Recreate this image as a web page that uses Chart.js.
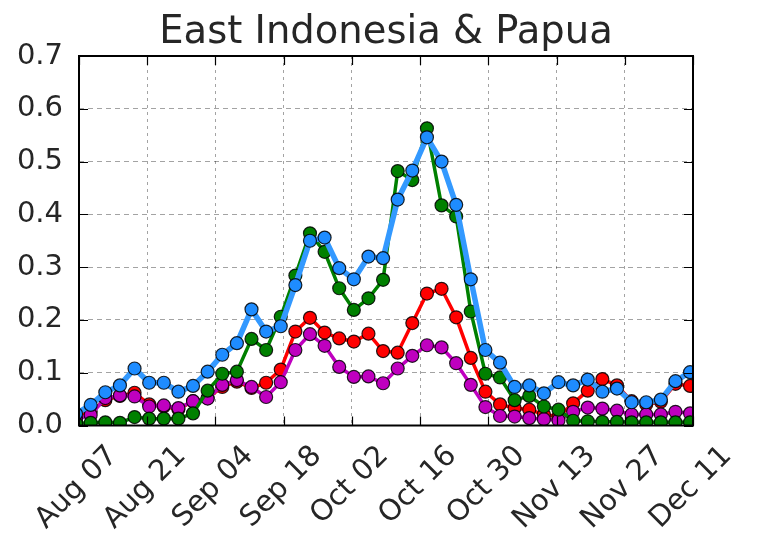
<!DOCTYPE html>
<html>
<head>
<meta charset="utf-8">
<script src="https://cdn.jsdelivr.net/npm/chart.js@4"></script>
<style>
  html, body { margin: 0; padding: 0; background: #ffffff; }
  canvas { display: block; }
</style>
</head>
<body>
<canvas id="chart" width="759" height="541"></canvas>
<script>
// Days after Aug 07 at which each sample was taken (one sample every 3 days)
const sampleDays = [-0.6, 2.4, 5.4, 8.4, 11.4, 14.4, 17.4, 20.4, 23.4, 26.4, 29.4,
  32.4, 35.4, 38.4, 41.4, 44.4, 47.4, 50.4, 53.4, 56.4, 59.4, 62.4, 65.4, 68.4,
  71.4, 74.4, 77.4, 80.4, 83.4, 86.4, 89.4, 92.4, 95.4, 98.4, 101.4, 104.4,
  107.4, 110.4, 113.4, 116.4, 119.4, 122.4, 125.4];

const blueSeries = [0.022, 0.039, 0.063, 0.076, 0.108, 0.081, 0.081, 0.064, 0.075, 0.102, 0.134,
  0.156, 0.220, 0.178, 0.188, 0.266, 0.350, 0.356, 0.298, 0.277, 0.320, 0.317, 0.428,
  0.483, 0.546, 0.500, 0.418, 0.277, 0.143, 0.119, 0.073, 0.076, 0.061, 0.082, 0.076,
  0.087, 0.064, 0.070, 0.044, 0.044, 0.049, 0.084, 0.101];

const greenSeries = [0.004, 0.005, 0.006, 0.005, 0.016, 0.013, 0.013, 0.013, 0.023, 0.066, 0.098,
  0.102, 0.164, 0.143, 0.206, 0.284, 0.364, 0.329, 0.260, 0.219, 0.241, 0.276, 0.482,
  0.465, 0.563, 0.417, 0.396, 0.216, 0.098, 0.091, 0.048, 0.056, 0.036, 0.030, 0.009,
  0.008, 0.007, 0.007, 0.006, 0.006, 0.006, 0.006, 0.006];

const redSeries = [0.018, 0.026, 0.048, 0.056, 0.062, 0.040, 0.036, 0.031, 0.046, 0.052, 0.073,
  0.083, 0.071, 0.081, 0.106, 0.178, 0.204, 0.176, 0.165, 0.159, 0.174, 0.141, 0.138,
  0.194, 0.250, 0.259, 0.205, 0.128, 0.064, 0.040, 0.033, 0.030, 0.021, 0.017, 0.042,
  0.066, 0.088, 0.076, 0.046, 0.040, 0.045, 0.079, 0.075];

const magentaSeries = [0.012, 0.020, 0.052, 0.057, 0.055, 0.036, 0.038, 0.033, 0.046, 0.051, 0.077,
  0.086, 0.073, 0.054, 0.082, 0.143, 0.173, 0.151, 0.111, 0.092, 0.093, 0.080, 0.108,
  0.132, 0.152, 0.148, 0.118, 0.077, 0.035, 0.018, 0.017, 0.014, 0.012, 0.010, 0.026,
  0.034, 0.032, 0.028, 0.021, 0.021, 0.021, 0.026, 0.023];

// Date ticks every two weeks, starting at Aug 07 (day 0)
const tickDays = [0, 14, 28, 42, 56, 70, 84, 98, 112, 126];
const tickLabels = ['Aug 07', 'Aug 21', 'Sep 04', 'Sep 18', 'Oct 02', 'Oct 16',
  'Oct 30', 'Nov 13', 'Nov 27', 'Dec 11'];

const chartTitle = 'East Indonesia & Papua';
const FONT = '"DejaVu Sans", "Liberation Sans", sans-serif';
const TEXT_COLOR = '#262626';

function toPoints(values) {
  return values.map((v, i) => ({ x: sampleDays[i], y: v }));
}

function series(values, lineColor, markerColor, width) {
  return {
    data: toPoints(values),
    borderColor: lineColor,
    borderWidth: width,
    pointRadius: 6.5,
    pointHoverRadius: 6.5,
    pointBackgroundColor: markerColor,
    pointBorderColor: 'rgba(0,0,0,0.85)',
    pointBorderWidth: 1.2,
    tension: 0,
    fill: false
  };
}

// Frame, inward tick marks, rotated date labels and title
const axesDecor = {
  id: 'axesDecor',
  afterDatasetsDraw(chart) {
    const { ctx, chartArea: a, scales } = chart;
    ctx.save();
    ctx.strokeStyle = '#000';
    ctx.lineWidth = 1.2;
    const tl = 9;
    ctx.beginPath();
    scales.x.ticks.forEach(t => {
      const px = Math.round(scales.x.getPixelForValue(t.value)) + 0.5;
      ctx.moveTo(px, a.bottom); ctx.lineTo(px, a.bottom - tl);
      ctx.moveTo(px, a.top); ctx.lineTo(px, a.top + tl);
    });
    scales.y.ticks.forEach(t => {
      const py = Math.round(scales.y.getPixelForValue(t.value)) + 0.5;
      ctx.moveTo(a.left, py); ctx.lineTo(a.left + tl, py);
      ctx.moveTo(a.right, py); ctx.lineTo(a.right - tl, py);
    });
    ctx.stroke();
    ctx.lineWidth = 2;
    ctx.strokeRect(a.left, a.top, a.right - a.left, a.bottom - a.top);
    ctx.restore();
  },
  afterDraw(chart) {
    const { ctx, chartArea: a, scales } = chart;
    const size = 29;
    ctx.save();
    ctx.font = size + 'px ' + FONT;
    ctx.fillStyle = TEXT_COLOR;
    ctx.textAlign = 'center';
    ctx.textBaseline = 'middle';
    tickDays.forEach((d, i) => {
      const label = tickLabels[i];
      const w = ctx.measureText(label).width;
      const h = size * 1.164;
      const half = (w + h) * Math.SQRT1_2 / 2;
      const cx = scales.x.getPixelForValue(d) - 2;
      const cy = a.bottom + 14 + half;
      ctx.save();
      ctx.translate(cx, cy);
      ctx.rotate(-Math.PI / 4);
      ctx.fillText(label, 0, 0);
      ctx.restore();
    });
    ctx.font = '38.5px ' + FONT;
    ctx.textBaseline = 'alphabetic';
    ctx.fillText(chartTitle, (a.left + a.right) / 2, 43);
    ctx.restore();
  }
};

new Chart(document.getElementById('chart'), {
  type: 'line',
  data: {
    datasets: [
      series(blueSeries, '#3399ff', '#1e8cff', 5.5),
      series(greenSeries, '#008000', '#008000', 3.5),
      series(magentaSeries, '#bf00bf', '#bf00bf', 3.5),
      series(redSeries, '#ff0000', '#ff0000', 3.5)
    ]
  },
  options: {
    responsive: false,
    animation: false,
    events: [],
    layout: { padding: { top: 56, right: 66, left: 0, bottom: 0 } },
    plugins: {
      legend: { display: false },
      title: { display: false },
      tooltip: { enabled: false }
    },
    scales: {
      x: {
        type: 'linear',
        min: 0,
        max: 126,
        afterBuildTicks(scale) {
          scale.ticks = tickDays.map(v => ({ value: v }));
        },
        ticks: { display: false },
        grid: { color: 'rgba(0,0,0,0.36)', lineWidth: 1, drawTicks: false },
        border: { display: false, dash: [3, 4] },
        afterFit(scale) { scale.height = 115.5; }
      },
      y: {
        min: 0,
        max: 0.7,
        ticks: {
          stepSize: 0.1,
          padding: 16,
          color: TEXT_COLOR,
          font: { family: FONT, size: 29 },
          callback: v => Number(v).toFixed(1)
        },
        grid: { color: 'rgba(0,0,0,0.36)', lineWidth: 1, drawTicks: false },
        border: { display: false, dash: [5, 4] },
        afterFit(scale) { scale.width = 79; }
      }
    }
  },
  plugins: [axesDecor]
});
</script>
</body>
</html>
